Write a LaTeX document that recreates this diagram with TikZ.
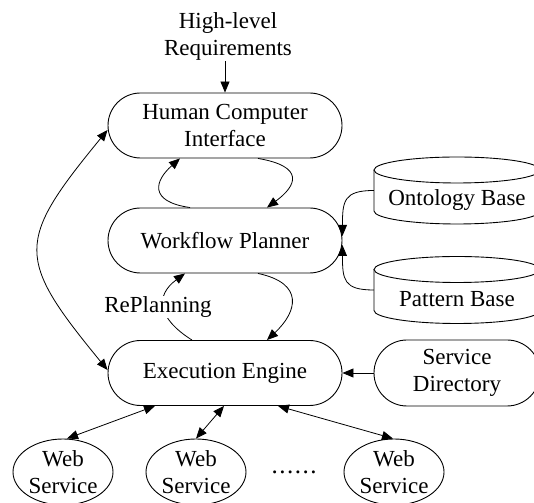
\documentclass[tikz,border=0pt]{standalone}
\usepackage{fontspec}
\setmainfont{Liberation Serif}
\usetikzlibrary{arrows.meta,shapes.misc,shapes.geometric}
\newcommand\mycyl[2]{%
  \draw[line width=0.9pt] (#1,#2+20.5) ellipse [x radius=83pt, y radius=13pt];
  \draw[line width=0.9pt] (#1-83,#2+20.5) -- (#1-83,#2-20.5)
     arc [start angle=180, end angle=360, x radius=83pt, y radius=13pt]
     -- (#1+83,#2+20.5);
}
\begin{document}
\begin{tikzpicture}[x=1pt,y=1pt,
  every node/.style={font=\fontsize{23}{27}\selectfont, align=center},
  pill/.style={rounded rectangle, draw, line width=0.9pt, minimum width=234pt, minimum height=65pt, inner sep=0pt},
  sdpill/.style={rounded rectangle, draw, line width=0.9pt, minimum width=166pt, minimum height=66pt, inner sep=0pt},
  wsnode/.style={ellipse, draw, line width=0.9pt, minimum width=100pt, minimum height=66pt, inner sep=0pt},
  cylbox/.style={rectangle, minimum width=166pt, minimum height=66pt, inner sep=0pt},
  conn/.style={line width=0.8pt, -{Triangle[length=11pt,width=9pt]}},
  biconn/.style={line width=0.8pt, {Triangle[length=11pt,width=9pt]}-{Triangle[length=11pt,width=9pt]}},
]
\useasboundingbox (0,0) rectangle (534,502);
\clip (0,0) rectangle (534,502);

% nodes
\node[inner sep=1pt] (req) at (228,466) {High-level\\Requirements};
\node[pill] (hci) at (225,376.5) {Human Computer\\Interface};
\node[pill] (wp) at (225,261.5) {Workflow Planner};
\node[pill] (ee) at (225,129) {Execution Engine};
\node[sdpill] (sd) at (457,129) {Service\\Directory};

\node[cylbox] (ont) at (457,311.5) {};
\mycyl{457}{311.5}
\node (onttext) at (457,302) {Ontology Base};
\node[cylbox] (pat) at (457,212) {};
\mycyl{457}{212}
\node (pattext) at (457,203) {Pattern Base};

\node[wsnode] (ws1) at (63,30) {Web\\Service};
\node[wsnode] (ws2) at (196,30) {Web\\Service};
\node[wsnode] (ws3) at (394,30) {Web\\Service};
\node[inner sep=0pt, font=\fontsize{25}{27}\selectfont] (dots) at (294,30) {.\kern1.5pt.\kern1.5pt.\kern1.5pt.\kern1.5pt.\kern1.5pt.};

% connectors
\draw[conn] (req.south -| hci.north) -- (hci.north);

\draw[conn] ([xshift=-35pt]wp.north) .. controls +(-42,6) and +(-25,-22) .. ([xshift=-45pt]hci.south);
\draw[conn] ([xshift=33pt]hci.south) .. controls +(47,-8) and +(30,22) .. ([xshift=42pt]wp.north);

\draw[conn] ([xshift=-33pt]ee.north) .. controls +(-35,22) and +(-30,-22) .. ([xshift=-40pt]wp.south);
\draw[conn] ([xshift=33pt]wp.south) .. controls +(47,-10) and +(30,28) .. ([xshift=42pt]ee.north);
\node[fill=white, inner sep=1pt] (replan) at (158,195) {RePlanning};

\draw[biconn] ([yshift=-4.5pt]hci.west) .. controls +(-92,-112) and +(-92,112) .. ([yshift=3pt]ee.west);

\draw[conn] (ont.west) .. controls +(-30,0) and +(0,35) .. ([yshift=4.5pt]wp.east);
\draw[conn] (pat.west) .. controls +(-30,0) and +(0,-35) .. ([yshift=-4.5pt]wp.east);

\draw[conn] (sd.west) -- (ee.east);

\draw[biconn] ([xshift=-70pt]ee.south) -- ([xshift=4pt]ws1.north);
\draw[biconn] ([xshift=-1pt]ee.south) -- (ws2.north);
\draw[biconn] ([xshift=53pt]ee.south) -- ([xshift=-1pt]ws3.north);
\end{tikzpicture}
\end{document}
